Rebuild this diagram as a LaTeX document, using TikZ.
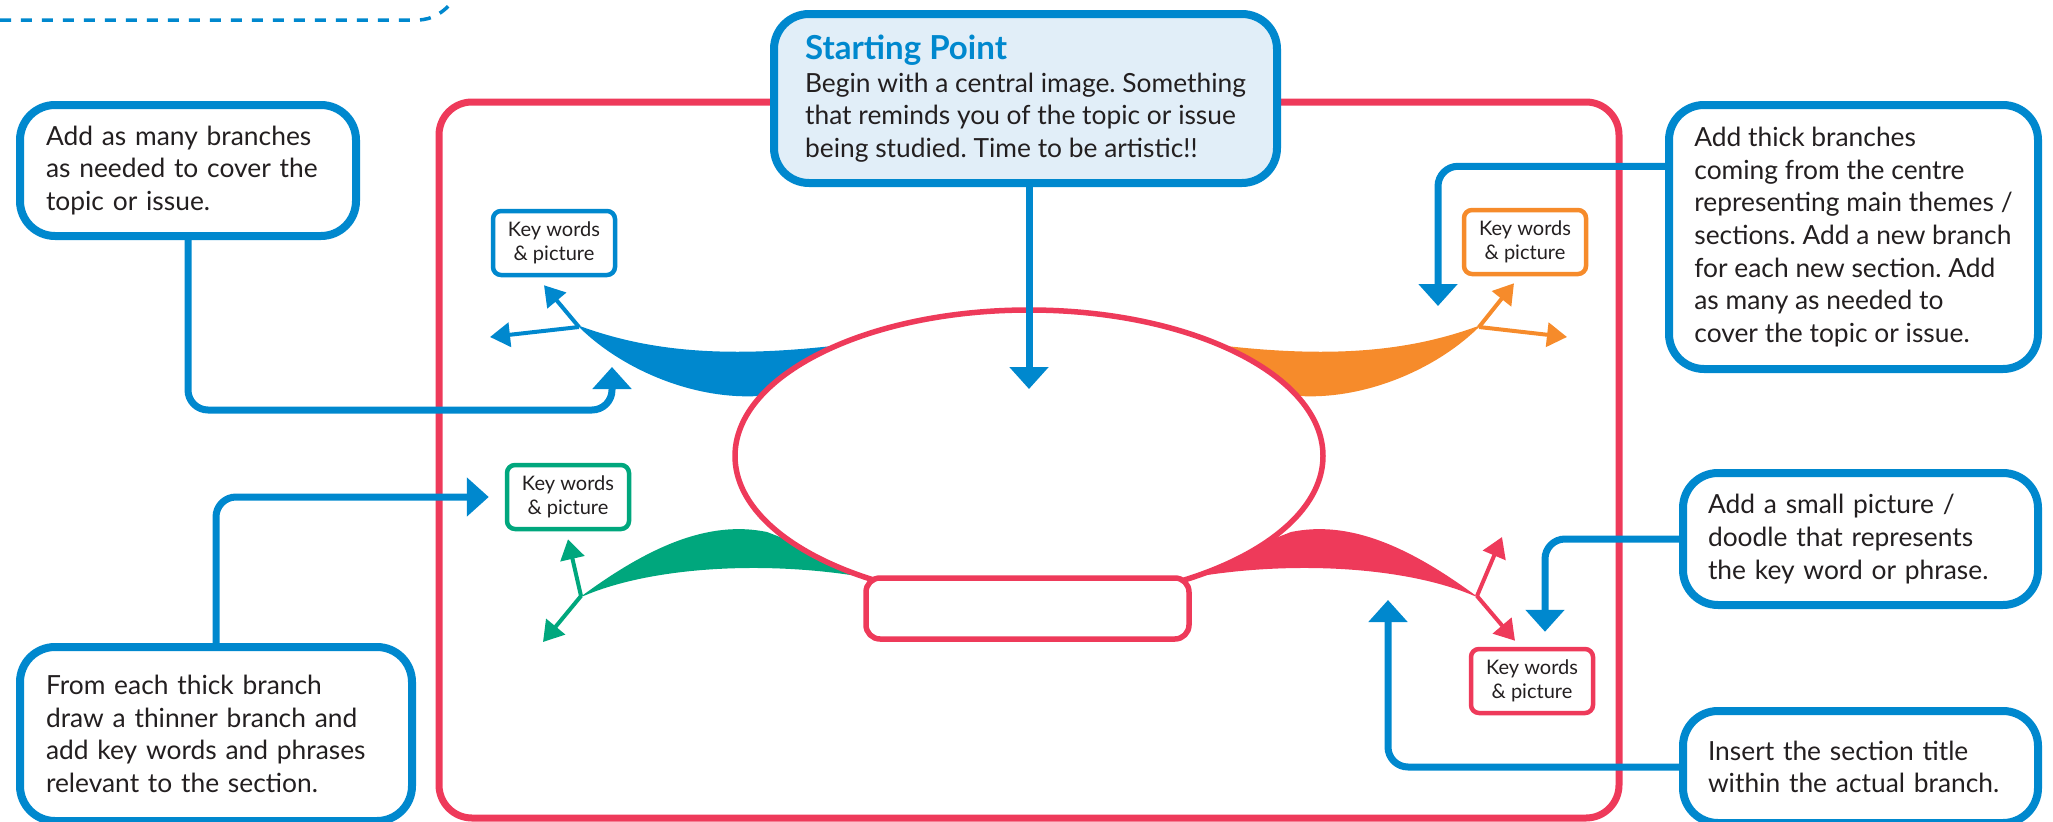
\documentclass[tikz,border=0pt]{standalone}
\usepackage{fontspec}
\setmainfont{Lato}
\usetikzlibrary{arrows.meta,shapes.geometric,calc}
\frenchspacing

\definecolor{mapblue}{HTML}{0088CE}
\definecolor{mapred}{HTML}{EE3A5A}
\definecolor{maporange}{HTML}{F68B2B}
\definecolor{mapgreen}{HTML}{00A77D}
\definecolor{paleblue}{HTML}{E1EEF8}
\definecolor{ink}{HTML}{231F20}

\begin{document}
\begin{tikzpicture}[
x=0.1mm, y=-0.1mm,
tipbox/.style={rounded corners=3.5mm, draw=mapblue, line width=0.8mm, fill=white, text=ink, align=left, inner ysep=0pt, font=\fontsize{7.5}{9.3}\selectfont},
keybox/.style={rounded corners=0.8mm, line width=0.45mm, fill=white, text=ink, minimum width=12.2mm, minimum height=6.4mm, inner sep=0pt, align=center, font=\fontsize{5.7}{6.8}\selectfont},
connector/.style={draw=mapblue, line width=0.7mm, rounded corners=2mm, -{Triangle[length=2.2mm, width=3.8mm]}},
twig/.style={line width=0.4mm, -{Triangle[length=2mm, width=2.4mm]}},
upperbranch/.pic={
  \fill (-452,-131) .. controls (-380,-104) and (-300,-97) .. (-180,-112)
        -- (-230,-58) -- (-270,-60) .. controls (-340,-56) and (-412,-90) .. (-452,-131) -- cycle;
  \coordinate (-tip) at (-450,-129);
},
lowerbranch/.pic={
  \fill (-450,142) .. controls (-380,90) and (-320,64) .. (-262,76)
        -- (-200,100) -- (-160,122) .. controls (-260,104) and (-380,110) .. (-450,142) -- cycle;
  \coordinate (-tip) at (-448,140);
},
]
\useasboundingbox (0,0) rectangle (2053,822);

% dashed guide line and the sheet frame
\draw[mapblue, line width=0.35mm, dash pattern=on 1.1mm off 1mm] (0,20) -- (417,20) .. controls (433,20) and (445,12) .. (457,-4);
\draw[mapred, line width=0.7mm, rounded corners=3.3mm] (439,102) rectangle (1619,818);

%Branches
\coordinate (mid) at (1029,456);
\pic[mapblue] (bb) at (mid) {upperbranch};
\pic[maporange, xscale=-1] (ob) at (mid) {upperbranch};
\pic[mapgreen] (gb) at (mid) {lowerbranch};
\pic[mapred, xscale=-1] (rb) at (mid) {lowerbranch};

%Nodes
\node[keybox, draw=mapblue] (bkey) at (554,243) {Key words\\\& picture};
\node[keybox, draw=maporange] (okey) at (1525,242) {Key words\\\& picture};
\node[keybox, draw=mapgreen] (gkey) at (568,497) {Key words\\\& picture};
\node[keybox, draw=mapred] (rkey) at (1532,681) {Key words\\\& picture};

\coordinate (bleft) at (490,337);
\coordinate (oright) at (1567,337);
\coordinate (gleft) at (543,642);
\coordinate (rup) at (1502,537);

\draw[twig, mapblue] (bb-tip) -- ($(bkey.south)+(-10,8)$);
\draw[twig, mapblue] (bb-tip) -- (bleft);
\draw[twig, maporange] (ob-tip) -- ($(okey.south)+(-11,7)$);
\draw[twig, maporange] (ob-tip) -- (oright);
\draw[twig, mapgreen] (gb-tip) -- ($(gkey.south)+(0,8)$);
\draw[twig, mapgreen] (gb-tip) -- (gleft);
\draw[twig, mapred] (rb-tip) -- (rup);
\draw[twig, mapred] (rb-tip) -- ($(rkey.north)+(-17,-6)$);

\node[ellipse, draw=mapred, fill=white, line width=0.55mm, minimum width=58.8mm, minimum height=29.2mm, inner sep=0pt] (centre) at (mid) {};
\node[draw=mapred, fill=white, line width=0.55mm, rounded corners=1.4mm, minimum width=32.3mm, minimum height=6.1mm, inner sep=0pt] (title) at (1027.5,608.5) {};

\node[tipbox, fill=paleblue, minimum width=50.3mm, minimum height=16.9mm] (start) at (1025.5,98.5)
  {{\color{mapblue}\bfseries\fontsize{9.4}{10.5}\selectfont Starting Point}\\
   Begin with a central image. Something\\
   that reminds you of the topic or issue\\
   being studied. Time to be artistic!!};
\node[tipbox, text width=28.4mm, inner xsep=2.6mm, minimum height=13.1mm] (branches) at (188,170.5)
  {Add as many branches\\as needed to cover the\\topic or issue.};
\node[tipbox, minimum width=36.9mm, minimum height=26.4mm] (thick) at (1853.5,237)
  {Add thick branches\\coming from the centre\\representing main themes /\\sections. Add a new branch\\for each new section. Add\\as many as needed to\\cover the topic or issue.};
\node[tipbox, text width=34mm, inner xsep=2.6mm, minimum height=17.4mm] (from) at (216,734)
  {From each thick branch\\draw a thinner branch and\\add key words and phrases\\relevant to the section.};
\node[tipbox, text width=30.5mm, inner xsep=2.5mm, minimum height=13.2mm] (small) at (1860.5,539)
  {Add a small picture /\\doodle that represents\\the key word or phrase.};
\node[tipbox, text width=30.5mm, inner xsep=2.5mm, minimum height=11.2mm] (insert) at (1860.5,767)
  {Insert the section title\\within the actual branch.};

\coordinate (cmark) at (1029,389);
\coordinate (bmark) at (612,367);
\coordinate (omark) at (1438,306);
\coordinate (tmark) at (1388,600);

%Lines
\draw[connector, rounded corners=0pt] (start.south -| cmark) -- (cmark);
\draw[connector] (branches.south) |- ($(bmark)+(0,43)$) -- (bmark);
\draw[connector] ($(thick.north west)!0.24!(thick.south west)$) -| (omark);
\draw[connector, shorten >=1.6mm] (from.north) |- (gkey.west);
\draw[connector, shorten >=1.5mm] (small.west) -| ($(rkey.north)+(13,0)$);
\draw[connector] (insert.west) -| (tmark);

\end{tikzpicture}
\end{document}
